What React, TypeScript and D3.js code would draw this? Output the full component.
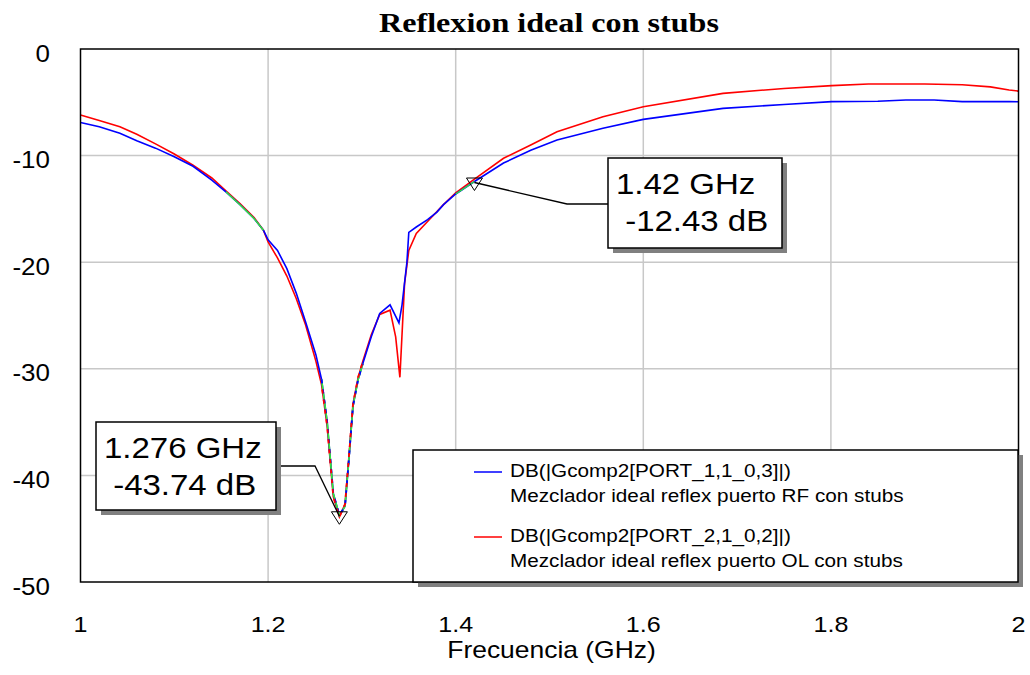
import React from "react";
import * as d3 from "d3";

// ---- data ----
const blueFreq = [1.0, 1.02, 1.042, 1.06, 1.08, 1.1, 1.12, 1.14, 1.155, 1.17, 1.185, 1.195, 1.2, 1.21, 1.22, 1.23, 1.24, 1.251, 1.257, 1.263, 1.2695, 1.276, 1.282, 1.2855, 1.2905, 1.296, 1.301, 1.31, 1.319, 1.33, 1.3395, 1.3428, 1.348, 1.35, 1.358, 1.37, 1.38, 1.387, 1.4, 1.42, 1.451, 1.48, 1.508, 1.557, 1.6, 1.685, 1.75, 1.801, 1.85, 1.88, 1.91, 1.94, 1.99, 2.0];
const blueDb = [-6.9, -7.3, -7.9, -8.6, -9.3, -10.1, -11.0, -12.3, -13.4, -14.6, -15.9, -17.0, -17.9, -18.9, -20.6, -22.9, -25.6, -28.7, -31.0, -35.0, -41.7, -43.74, -42.9, -39.2, -33.5, -31.0, -29.5, -27.0, -24.8, -24.0, -25.7, -24.0, -20.0, -17.2, -16.7, -16.0, -15.3, -14.6, -13.6, -12.43, -10.7, -9.5, -8.54, -7.44, -6.6, -5.57, -5.2, -4.94, -4.9, -4.78, -4.78, -4.94, -4.94, -4.95];

const redFreq = [1.0, 1.02, 1.042, 1.06, 1.08, 1.1, 1.12, 1.14, 1.155, 1.17, 1.185, 1.195, 1.2, 1.21, 1.22, 1.23, 1.24, 1.251, 1.257, 1.263, 1.2695, 1.276, 1.282, 1.2855, 1.2905, 1.296, 1.301, 1.31, 1.319, 1.33, 1.336, 1.3405, 1.3455, 1.35, 1.358, 1.372, 1.387, 1.4, 1.42, 1.451, 1.48, 1.508, 1.557, 1.6, 1.685, 1.75, 1.801, 1.84, 1.9, 1.94, 1.97, 1.99, 2.0];
const redDb = [-6.2, -6.7, -7.3, -8.0, -8.9, -9.85, -10.9, -12.1, -13.3, -14.5, -15.8, -17.0, -18.1, -19.6, -21.3, -23.4, -25.9, -29.3, -31.5, -35.4, -42.0, -43.9, -42.7, -39.0, -33.3, -30.8, -29.3, -26.8, -24.9, -24.5, -27.0, -30.8, -22.0, -18.9, -17.3, -16.0, -14.6, -13.5, -12.2, -10.25, -9.0, -7.76, -6.35, -5.41, -4.16, -3.7, -3.44, -3.28, -3.28, -3.35, -3.55, -3.85, -3.95];

// ranges where both traces coincide (drawn green in the original)
const overlapStart = [1.155, 1.39];
const overlapEnd = [1.197, 1.42];
const vStart = 1.257;
const vEnd = 1.301;

const xTicks = [1.0, 1.2, 1.4, 1.6, 1.8, 2.0];
const xTickLabels = ["1", "1.2", "1.4", "1.6", "1.8", "2"];
const yTicks = [0, -10, -20, -30, -40, -50];
const yTickLabels = ["0", "-10", "-20", "-30", "-40", "-50"];

const markerFreq = [1.276, 1.42];
const markerDb = [-43.74, -12.43];
const markerLine1 = ["1.276 GHz", "1.42 GHz"];
const markerLine2 = [" -43.74 dB", " -12.43 dB"];

const legendNames = ["DB(|Gcomp2[PORT_1,1_0,3]|)", "DB(|Gcomp2[PORT_2,1_0,2]|)"];
const legendDesc = ["Mezclador ideal reflex puerto RF con stubs", "Mezclador ideal reflex puerto OL con stubs"];
const legendColors = ["#0000ff", "#ff0000"];

const title = "Reflexion ideal con stubs";
const xTitle = "Frecuencia (GHz)";

// ---- layout ----
const W = 1030, H = 675;
const L = 80.5, R = 1018.5, T = 49, B = 582;
const SANS = "'Liberation Sans', Arial, sans-serif";

// annotation box layout: [x, y, w, h, elbowX, elbowY]
const boxLayout = [
  [96, 422, 180, 88, 315, 466],
  [608, 158, 174, 90, 567, 204],
];

function SText(props: any) {
  const { x, y, size, sx = 1.12, anchor = "start", children, family = SANS, weight = "normal", fill = "#000" } = props;
  return (
    <text
      transform={`translate(${x},${y}) scale(${sx},1)`}
      fontSize={size}
      fontFamily={family}
      fontWeight={weight}
      textAnchor={anchor}
      fill={fill}
      style={{ whiteSpace: "pre" }}
    >
      {children}
    </text>
  );
}

export default function App() {
  const x = d3.scaleLinear().domain([1, 2]).range([L, R]);
  const y = d3.scaleLinear().domain([-50, 0]).range([B, T]);

  const blue = blueFreq.map((f, i) => [f, blueDb[i]] as [number, number]);
  const red = redFreq.map((f, i) => [f, redDb[i]] as [number, number]);
  const line = d3.line<[number, number]>().x((d) => x(d[0])).y((d) => y(d[1]));

  const sub = (arr: [number, number][], a: number, b: number) => arr.filter((d) => d[0] >= a - 1e-9 && d[0] <= b + 1e-9);

  return (
    <svg width={W} height={H} style={{ position: "absolute", left: 0, top: 0, background: "#fff" }}>
      <rect x={0} y={0} width={W} height={H} fill="#fff" />
      {/* grid */}
      {xTicks.slice(1, -1).map((t) => (
        <line key={"gx" + t} x1={x(t)} x2={x(t)} y1={T} y2={B} stroke="#c8c8c8" strokeWidth={1.5} />
      ))}
      {yTicks.slice(1, -1).map((t) => (
        <line key={"gy" + t} x1={L} x2={R} y1={y(t)} y2={y(t)} stroke="#c8c8c8" strokeWidth={1.5} />
      ))}

      {/* traces */}
      <path d={line(red) || ""} fill="none" stroke="#ff0000" strokeWidth={1.6} />
      <path d={line(blue) || ""} fill="none" stroke="#0000ff" strokeWidth={1.6} />
      {overlapStart.map((s, i) => (
        <path key={"ov" + i} d={line(sub(blue, s, overlapEnd[i])) || ""} fill="none" stroke="#33ee33" strokeWidth={1.4} />
      ))}
      <path d={line(sub(blue, vStart, vEnd)) || ""} fill="none" stroke="#33ee33" strokeWidth={1.6} />
      <path d={line(sub(blue, vStart, vEnd)) || ""} fill="none" stroke="#0000ff" strokeWidth={1.8} strokeDasharray="4 6" />
      <path d={line(sub(red, vStart, vEnd)) || ""} fill="none" stroke="#ff0000" strokeWidth={1.8} strokeDasharray="4 6" strokeDashoffset={5} />

      {/* frame */}
      <rect x={L} y={T} width={R - L} height={B - T} fill="none" stroke="#000" strokeWidth={1.5} />

      {/* markers + annotations */}
      {markerFreq.map((f, i) => {
        const px = x(f), py = y(markerDb[i]);
        const [bx, by, bw, bh, ex, ey] = boxLayout[i];
        const joinX = i === 0 ? bx + bw : bx;
        return (
          <g key={"m" + i}>
            <path d={`M${px - 8},${py - 3.5} L${px + 8},${py - 3.5} L${px},${py + 9} Z`} fill="none" stroke="#000" strokeWidth={1} />
            <polyline points={`${px},${py + 1} ${ex},${ey} ${joinX},${ey}`} fill="none" stroke="#000" strokeWidth={1.3} />
            <rect x={bx + 5} y={by + 5} width={bw} height={bh} fill="#808080" />
            <rect x={bx} y={by} width={bw} height={bh} fill="#fff" stroke="#000" strokeWidth={1.5} />
            <SText x={bx + 8} y={by + 36} size={30} sx={1.1}>{markerLine1[i]}</SText>
            <SText x={bx + 8} y={by + 73} size={30} sx={1.1}>{markerLine2[i]}</SText>
          </g>
        );
      })}

      {/* legend */}
      <rect x={418} y={455} width={605} height={132} fill="#808080" />
      <rect x={413} y={450} width={605} height={132} fill="#fff" stroke="#000" strokeWidth={1.5} />
      {legendNames.map((n, i) => (
        <g key={"lg" + i}>
          <line x1={474} x2={502} y1={472 + i * 65} y2={472 + i * 65} stroke={legendColors[i]} strokeWidth={1.5} />
          <SText x={510} y={477 + i * 65} size={18.5}>{n}</SText>
          <SText x={510} y={502 + i * 65} size={18.5}>{legendDesc[i]}</SText>
        </g>
      ))}

      {/* axes labels */}
      {yTicks.map((t, i) => (
        <SText key={"yt" + t} x={50} y={y(t) + 12.5} size={23} sx={1.13} anchor="end">{yTickLabels[i]}</SText>
      ))}
      {xTicks.map((t, i) => (
        <SText key={"xt" + t} x={x(t)} y={632} size={22} sx={1.14} anchor="middle">{xTickLabels[i]}</SText>
      ))}
      <SText x={551.5} y={658} size={23} sx={1.15} anchor="middle">{xTitle}</SText>
      <text x={379} y={32} fontSize={27} fontWeight="bold" fontFamily="'Liberation Serif', 'Times New Roman', serif" textLength={340} lengthAdjust="spacingAndGlyphs">
        {title}
      </text>
    </svg>
  );
}
